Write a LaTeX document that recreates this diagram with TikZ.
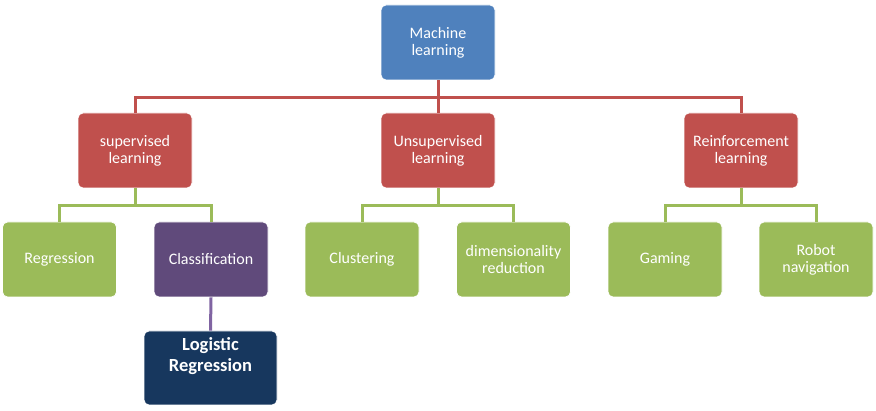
\documentclass[tikz,border=0pt]{standalone}
\usepackage{fontspec}
\setmainfont{Carlito}
\definecolor{mlblue}{HTML}{4F81BD}
\definecolor{mlred}{HTML}{C0504D}
\definecolor{mlgreen}{HTML}{9BBB59}
\definecolor{mlpurple}{HTML}{604A7B}
\definecolor{mllilac}{HTML}{8064A2}
\definecolor{mlnavy}{HTML}{17375E}
\begin{document}
\begin{tikzpicture}[x=1pt, y=-1pt,
        box/.style={rectangle, rounded corners=5pt, draw=white, line width=0.8pt,
            minimum width=114pt, minimum height=75pt, align=center, text=white,
            font=\fontsize{16}{17}\selectfont, inner sep=2pt},
        topbox/.style={box, fill=mlblue},
        midbox/.style={box, fill=mlred},
        leafbox/.style={box, fill=mlgreen},
        classbox/.style={box, fill=mlpurple},
        deepbox/.style={box, fill=mlnavy, minimum width=133pt, minimum height=74pt,
            font=\fontsize{18.5}{21}\bfseries\selectfont},
        redline/.style={draw=mlred, line width=3pt},
        greenline/.style={draw=mlgreen, line width=3pt},
        lilacline/.style={draw=mllilac, line width=3pt}]
    \useasboundingbox (0,0) rectangle (876,411);

    \node[topbox] (ml) at (438,42.5) {Machine\\learning};

    \node[midbox] (sup) at (135,150.5) {supervised\\learning};
    \node[midbox] (unsup) at (438,150.5) {Unsupervised\\learning};
    \node[midbox] (reinf) at (741,150.5) {Reinforcement\\learning};

    \node[leafbox] (regr) at (59.5,259.5) {Regression};
    \node[classbox] (classif) at (211,259.5) {Classification};
    \node[leafbox] (clust) at (362,259.5) {Clustering};
    \node[leafbox] (dimred) at (513.5,259.5) {dimensionality\\reduction};
    \node[leafbox] (gaming) at (665,259.5) {Gaming};
    \node[leafbox] (robot) at (816,259.5) {Robot\\navigation};

    \node[deepbox] (logreg) at (210.5,368) {Logistic\\Regression\\[7pt]};

    % top level
    \draw[redline] (ml.south) -- ++(0,17) -| (sup.north);
    \draw[redline] (ml.south) -- ++(0,17) -| (reinf.north);
    \draw[redline] (ml.south) -- (unsup.north);

    % second level
    \draw[greenline] (sup.south) -- ++(0,17) -| (regr.north);
    \draw[greenline] (sup.south) -- ++(0,17) -| (classif.north);
    \draw[greenline] (unsup.south) -- ++(0,17) -| (clust.north);
    \draw[greenline] (unsup.south) -- ++(0,17) -| (dimred.north);
    \draw[greenline] (reinf.south) -- ++(0,17) -| (gaming.north);
    \draw[greenline] (reinf.south) -- ++(0,17) -| (robot.north);

    \draw[lilacline] (classif.south) -- (logreg.north);
\end{tikzpicture}
\end{document}
